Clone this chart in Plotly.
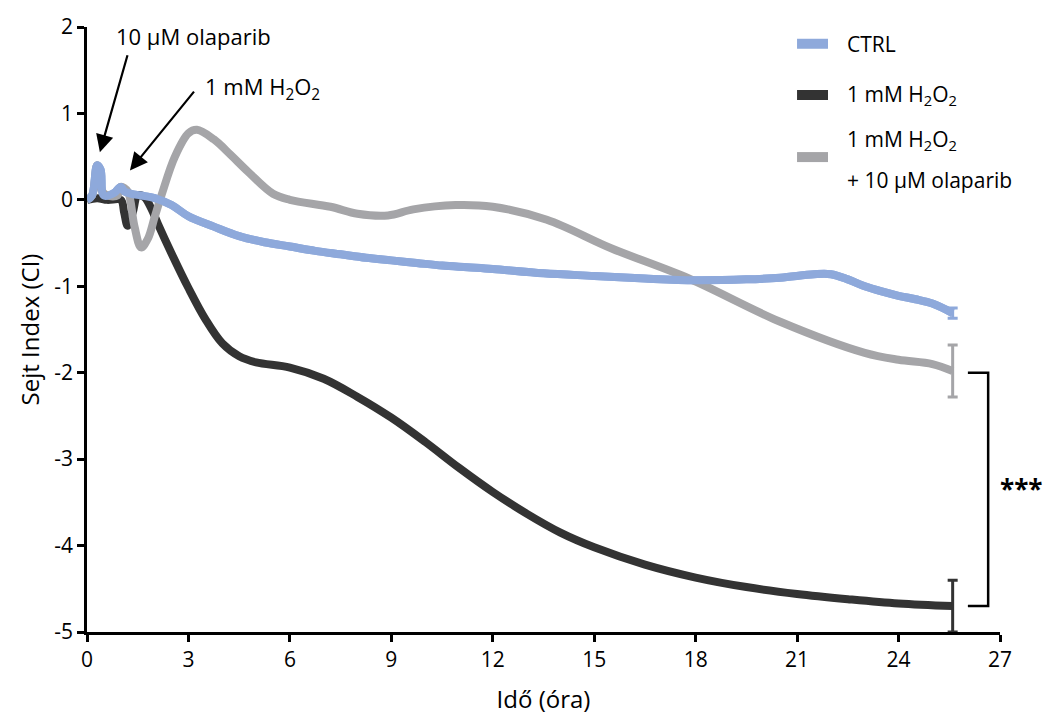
import plotly.graph_objects as go

# ---- data ----
t_ctrl = [0, 0.15, 0.3, 0.4, 0.5, 0.8, 1.0, 1.1, 1.3, 1.6, 2.0, 2.5, 3.0, 3.75, 4.5, 5.25, 6.0, 6.75, 7.5, 8.25, 9.0,
          9.75, 10.5, 11.25, 12.0, 13.5, 15.0, 16.5, 18.0, 19.5, 20.5, 21.5, 22.0, 22.5, 23.0, 23.5, 24.0, 24.5, 25.0, 25.6]
v_ctrl = [0, 0.05, 0.4, 0.35, 0.05, 0.08, 0.15, 0.1, 0.07, 0.05, 0.02, -0.06, -0.19, -0.31, -0.42, -0.49, -0.54, -0.59, -0.63, -0.67, -0.7,
          -0.73, -0.76, -0.78, -0.8, -0.85, -0.88, -0.91, -0.93, -0.92, -0.9, -0.86, -0.86, -0.92, -1.0, -1.06, -1.11, -1.15, -1.2, -1.31]

t_h2o2 = [0, 0.3, 0.6, 1.0, 1.1, 1.2, 1.35, 1.5, 1.7, 1.9, 2.1, 2.5, 3.0, 3.5, 4.0, 4.5, 5.0, 6.0, 7.0, 8.0, 9.0,
          10.0, 11.0, 12.0, 13.0, 14.0, 15.0, 16.5, 18.0, 19.5, 21.0, 22.5, 24.0, 25.6]
v_h2o2 = [0, 0.02, 0.0, 0.0, -0.15, -0.3, -0.15, 0.05, 0.03, -0.1, -0.28, -0.62, -1.02, -1.38, -1.66, -1.81, -1.88, -1.94, -2.07, -2.28, -2.52,
          -2.8, -3.1, -3.38, -3.63, -3.85, -4.02, -4.22, -4.37, -4.48, -4.56, -4.62, -4.67, -4.7]

t_olap = [0, 0.15, 0.3, 0.45, 0.6, 0.9, 1.0, 1.2, 1.4, 1.6, 1.8, 2.0, 2.2, 2.6, 3.0, 3.25, 3.75, 4.25, 4.75, 5.5, 6.0, 7.2, 8.0, 8.9,
          9.65, 10.9, 12.0, 13.6, 15.5, 17.8, 20.5, 23.0, 24.0, 25.0, 25.6]
v_olap = [0, 0.05, 0.4, 0.1, 0.05, 0.05, 0.15, 0.1, -0.3, -0.55, -0.45, -0.2, 0.05, 0.5, 0.77, 0.81, 0.7, 0.52, 0.33, 0.07, 0.0, -0.08, -0.16, -0.18,
          -0.11, -0.06, -0.08, -0.23, -0.56, -0.91, -1.41, -1.77, -1.85, -1.9, -1.98]

err_ctrl = 0.06
err_h2o2 = 0.3
err_olap = 0.3

x_ticks = [0, 3, 6, 9, 12, 15, 18, 21, 24, 27]
y_ticks = [2, 1, 0, -1, -2, -3, -4, -5]

legend_labels = ["CTRL", "1 mM H<sub>2</sub>O<sub>2</sub>", ["1 mM H<sub>2</sub>O<sub>2</sub>", "+ 10 μM olaparib"]]

C_CTRL = "#8EA9DB"
C_H2O2 = "#333333"
C_OLAP = "#A5A5A8"
FONT = "Open Sans"

fig = go.Figure()

line_kw = dict(width=8, shape="spline", smoothing=1.0)
fig.add_trace(go.Scatter(x=t_ctrl, y=v_ctrl, mode="lines", name="CTRL", showlegend=False,
                         line=dict(color=C_CTRL, **line_kw)))
fig.add_trace(go.Scatter(x=t_h2o2, y=v_h2o2, mode="lines", name="1 mM H2O2", showlegend=False,
                         line=dict(color=C_H2O2, **line_kw)))
fig.add_trace(go.Scatter(x=t_olap, y=v_olap, mode="lines", name="1 mM H2O2 + 10 μM olaparib", showlegend=False,
                         line=dict(color=C_OLAP, **line_kw)))
# CTRL drawn again on top at the start (as in the reference)
fig.add_trace(go.Scatter(x=t_ctrl, y=v_ctrl, mode="lines", showlegend=False, hoverinfo="skip",
                         line=dict(color=C_CTRL, **line_kw)))

# error bars at end points
for tt, vv, ee, cc in [(t_ctrl, v_ctrl, err_ctrl, C_CTRL), (t_h2o2, v_h2o2, err_h2o2, C_H2O2), (t_olap, v_olap, err_olap, C_OLAP)]:
    fig.add_trace(go.Scatter(x=[tt[-1]], y=[vv[-1]], mode="markers", showlegend=False,
                             marker=dict(size=1, color=cc, opacity=0),
                             error_y=dict(type="constant", value=ee, color=cc, thickness=3, width=5)))

# significance bracket
xb0 = t_olap[-1] + 0.45
xb1 = t_olap[-1] + 1.05
ytop = v_olap[-1] - 0.02
ybot = v_h2o2[-1]
fig.add_shape(type="path", path=f"M {xb0},{ytop} L {xb1},{ytop} L {xb1},{ybot} L {xb0},{ybot}",
              line=dict(color="black", width=2.5), xref="x", yref="y")
fig.add_annotation(x=xb1 + 0.3, y=(ytop + ybot) / 2, text="<b>***</b>", showarrow=False,
                   xanchor="left", font=dict(size=26, color="black", family=FONT))
fig.add_annotation(x=xb1 + 0.45, y=ytop, text="<b>·</b>", showarrow=False, xanchor="left",
                   font=dict(size=14, color="black", family=FONT))

# treatment arrows
fig.add_annotation(x=0.38, y=0.55, ax=1.21, ay=1.69, axref="x", ayref="y", xref="x", yref="y",
                   showarrow=True, arrowhead=2, arrowsize=1.6, arrowwidth=2.2, arrowcolor="black", text="")
fig.add_annotation(x=1.27, y=0.34, ax=3.2, ay=1.27, axref="x", ayref="y", xref="x", yref="y",
                   showarrow=True, arrowhead=2, arrowsize=1.6, arrowwidth=2.2, arrowcolor="black", text="")
fig.add_annotation(x=3.14, y=1.9, text="10 μM olaparib", showarrow=False,
                   font=dict(size=22, color="black", family=FONT))
fig.add_annotation(x=5.2, y=1.3, text="1 mM H<sub>2</sub>O<sub>2</sub>", showarrow=False,
                   font=dict(size=22, color="black", family=FONT))

# manual legend (paper coordinates)
sw_x0, sw_x1, tx = 0.7777, 0.8116, 0.8302
leg_font = dict(size=21, color="black", family=FONT)
for (sy, col) in [(0.9723, C_CTRL), (0.8876, C_H2O2), (0.7850, C_OLAP)]:
    fig.add_shape(type="line", xref="paper", yref="paper", x0=sw_x0, x1=sw_x1, y0=sy, y1=sy,
                  line=dict(color=col, width=10))
fig.add_annotation(xref="paper", yref="paper", x=tx, y=0.9723, text=legend_labels[0], showarrow=False,
                   xanchor="left", yanchor="middle", font=leg_font)
fig.add_annotation(xref="paper", yref="paper", x=tx, y=0.8876, text=legend_labels[1], showarrow=False,
                   xanchor="left", yanchor="middle", font=leg_font)
fig.add_annotation(xref="paper", yref="paper", x=tx, y=0.8127, text=legend_labels[2][0], showarrow=False,
                   xanchor="left", yanchor="middle", font=leg_font)
fig.add_annotation(xref="paper", yref="paper", x=tx, y=0.7476, text=legend_labels[2][1], showarrow=False,
                   xanchor="left", yanchor="middle", font=leg_font)

axis_common = dict(showgrid=False, zeroline=False, showline=True, linecolor="black", linewidth=2.5,
                   ticks="outside", ticklen=7, tickwidth=2.5, tickcolor="black",
                   tickfont=dict(size=21, color="black", family=FONT), mirror=False)

fig.update_xaxes(range=[0, 27], tickvals=x_ticks, ticktext=[str(v) for v in x_ticks],
                 title=dict(text="Idő (óra)", font=dict(size=24, color="black", family=FONT), standoff=20),
                 **axis_common)
fig.update_yaxes(range=[-5, 2], tickvals=y_ticks, ticktext=[str(v) for v in y_ticks],
                 title=dict(text="Sejt Index (CI)", font=dict(size=24, color="black", family=FONT), standoff=8),
                 **axis_common)

fig.update_layout(
    width=1056, height=722,
    margin=dict(l=87, r=56, t=18, b=90),
    plot_bgcolor="white", paper_bgcolor="white",
    font=dict(family=FONT, color="black"),
    showlegend=False,
)

fig.write_html("out.html")
